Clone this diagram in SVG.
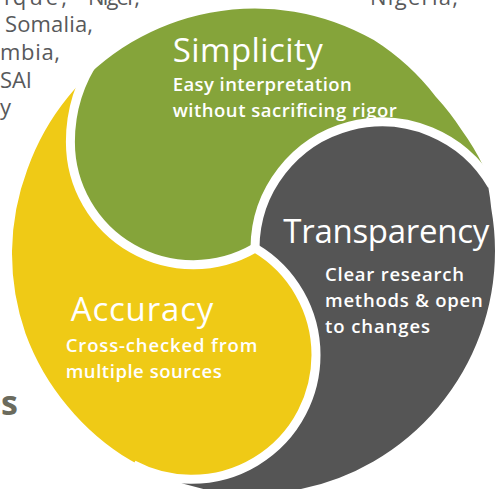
<svg xmlns="http://www.w3.org/2000/svg" width="495" height="489" viewBox="0 0 495 489">
<defs>
<style>
.title{font-family:"Open Sans","Liberation Sans",sans-serif;font-size:33px;fill:#fff}
.sub{font-family:"Open Sans","Liberation Sans",sans-serif;font-weight:600;font-size:18.5px;fill:#fff}
.bg{font-family:"Open Sans","Liberation Sans",sans-serif;font-size:22px;fill:#58595b}
.gap{fill:none;stroke:#fff;stroke-width:9}
</style>
<clipPath id="outer">
<path d="M495,251 A243,243 0 0 0 491.3,208.8 A243,243 0 0 0 483.6,166.7 A243,243 0 0 0 461.6,130 A243,243 0 0 0 435.8,96.7 A243,243 0 0 0 373.8,40.1 A243,243 0 0 0 294.2,11.7 A243,243 0 0 0 210,12.7 A243,243 0 0 0 131.5,42.3 A243,243 0 0 0 68.2,96.7 A243,243 0 0 0 27.4,169.3 A243,243 0 0 0 12,251 A243,243 0 0 0 25.5,333.4 A243,243 0 0 0 67.4,405.9 A243,243 0 0 0 131,460.6 A243,243 0 0 0 209.8,490.3 A243,243 0 0 0 294.2,490.3 A243,243 0 0 0 373.5,461.4 A243,243 0 0 0 438.1,407.2 A243,243 0 0 0 480.3,334.1 A243,243 0 0 0 495,251 Z"/>
</clipPath>
</defs>
<rect width="495" height="489" fill="#fff"/>
<g id="background-text">
<text class="bg" x="4" y="5" textLength="63" lengthAdjust="spacing">ique,</text>
<text class="bg" x="88" y="5" textLength="52" lengthAdjust="spacing">Niger,</text>
<text class="bg" x="5" y="32" textLength="88" lengthAdjust="spacing">Somalia,</text>
<text class="bg" x="0" y="60" textLength="60" lengthAdjust="spacing">mbia,</text>
<text class="bg" x="0" y="88" textLength="32" lengthAdjust="spacing">SAI</text>
<text class="bg" x="0" y="115">y</text>
<text class="bg" x="370" y="5" textLength="88" lengthAdjust="spacing">Nigeria,</text>
<text x="18" y="415" text-anchor="end" style="font-family:'Open Sans','Liberation Sans',sans-serif;font-weight:700;font-size:34px;fill:#6b6b5d">es</text>
</g>
<g clip-path="url(#outer)">
<g id="simplicity">
<path fill="#85a43a" d="M255,248 A122.8,122.8 0 0 1 70.4,141.9 A150.3,150.3 0 0 1 97.6,55.7 L60,-20 L300,-40 L560,100 L492,185.5 A127,127 0 0 0 255,248 Z"/>
</g>
<g id="transparency">
<path fill="#555555" d="M255,248 A127,127 0 0 1 492,185.5 L580,250 L450,600 L150,600 L133.3,464.7 A124.3,124.3 0 0 0 316,355 A124.3,124.3 0 0 0 255,248 Z"/>
</g>
<g id="accuracy">
<path fill="#efca16" d="M255,248 A124.3,124.3 0 0 1 316,355 A124.3,124.3 0 0 1 133.3,464.7 L100,600 L-100,400 L-50,-20 L97.6,55.7 A150.3,150.3 0 0 0 70.4,141.9 A122.8,122.8 0 0 0 255,248 Z"/>
</g>
</g>
<g id="connectors">
<path class="gap" d="M255,248 A122.8,122.8 0 0 1 70.4,141.9 A150.3,150.3 0 0 1 97.6,55.7"/>
<path class="gap" d="M255,248 A127,127 0 0 1 492,185.5"/>
<path class="gap" d="M255,248 A124.3,124.3 0 0 1 316,355 A124.3,124.3 0 0 1 133.3,464.7"/>
</g>
<g id="labels">
<text class="title" x="172.7" y="62" textLength="150" lengthAdjust="spacing">Simplicity</text>
<text class="sub" x="172.7" y="91" textLength="179" lengthAdjust="spacing">Easy interpretation</text>
<text class="sub" x="172.7" y="117" textLength="224" lengthAdjust="spacing">without sacrificing rigor</text>
<text class="title" x="283.3" y="243" textLength="206" lengthAdjust="spacing">Transparency</text>
<text class="sub" x="325" y="281" textLength="139" lengthAdjust="spacing">Clear research</text>
<text class="sub" x="325" y="307" textLength="157.7" lengthAdjust="spacing">methods &amp; open</text>
<text class="sub" x="325" y="333" textLength="105" lengthAdjust="spacing">to changes</text>
<text class="title" x="70.7" y="321" textLength="142.6" lengthAdjust="spacing">Accuracy</text>
<text class="sub" x="65.7" y="352" textLength="191.6" lengthAdjust="spacing">Cross-checked from</text>
<text class="sub" x="65.7" y="378" textLength="156" lengthAdjust="spacing">multiple sources</text>
</g>
</svg>
